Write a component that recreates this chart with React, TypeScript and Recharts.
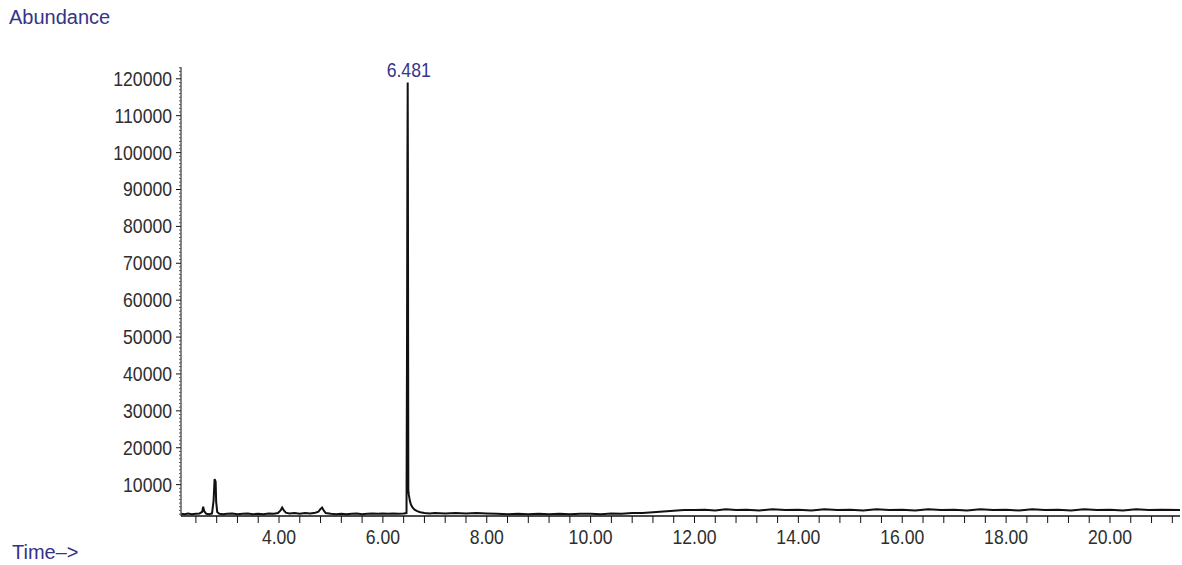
import React from 'react'
import { LineChart, Line, XAxis, YAxis, ReferenceDot } from 'recharts'

// retention time (min) and abundance
const TIMES = [
  2.12, 2.18, 2.25, 2.32, 2.40, 2.47, 2.52, 2.54, 2.56, 2.60,
  2.66, 2.71, 2.74, 2.76, 2.78, 2.79, 2.81, 2.85, 2.92, 3.00,
  3.10, 3.20, 3.30, 3.40, 3.50, 3.60, 3.70, 3.80, 3.90, 3.98,
  4.03, 4.06, 4.09, 4.13, 4.20, 4.30, 4.40, 4.50, 4.60, 4.70,
  4.76, 4.80, 4.83, 4.86, 4.90, 5.00, 5.10, 5.20, 5.30, 5.40,
  5.50, 5.60, 5.70, 5.80, 5.90, 6.00, 6.10, 6.20, 6.30, 6.40,
  6.455, 6.465, 6.472, 6.478, 6.482, 6.486, 6.490, 6.50, 6.52, 6.54,
  6.57, 6.61, 6.66, 6.72, 6.80, 6.90, 7.00, 7.20, 7.40, 7.60,
  7.80, 8.00, 8.20, 8.40, 8.60, 8.80, 9.00, 9.20, 9.40, 9.60,
  9.80, 10.00, 10.20, 10.40, 10.60, 10.80, 11.00, 11.20, 11.40, 11.60,
  11.80, 12.00, 12.20, 12.40, 12.60, 12.80, 13.00, 13.25, 13.50, 13.75,
  14.00, 14.25, 14.50, 14.75, 15.00, 15.25, 15.50, 15.75, 16.00, 16.25,
  16.50, 16.75, 17.00, 17.25, 17.50, 17.75, 18.00, 18.25, 18.50, 18.75,
  19.00, 19.25, 19.50, 19.75, 20.00, 20.25, 20.50, 20.75, 21.00, 21.35,
]
const ABUNDANCE = [
  2100, 2000, 2200, 2000, 2100, 2200, 2600, 4000, 2800, 2100,
  2000, 2200, 5600, 11500, 10800, 5400, 2600, 2100, 2000, 2100,
  2200, 2000, 2100, 2200, 2000, 2100, 2000, 2200, 2100, 2300,
  3000, 3800, 3100, 2400, 2200, 2300, 2100, 2300, 2200, 2400,
  2700, 3400, 3800, 3000, 2300, 2100, 2000, 2100, 2000, 2100,
  2200, 2000, 2100, 2200, 2100, 2200, 2100, 2200, 2100, 2200,
  2300, 48600, 95800, 119000, 95800, 48600, 8500, 7200, 5600, 4600,
  3800, 3200, 2800, 2500, 2300, 2200, 2300, 2200, 2300, 2200,
  2300, 2200, 2100, 2000, 2100, 2000, 2100, 2000, 2100, 2000,
  2100, 2100, 2000, 2200, 2100, 2300, 2300, 2500, 2700, 2900,
  3100, 3100, 3200, 3000, 3300, 3100, 3200, 3000, 3300, 3100,
  3200, 3000, 3300, 3100, 3200, 3000, 3300, 3100, 3200, 3000,
  3300, 3100, 3200, 3000, 3300, 3100, 3200, 3000, 3300, 3100,
  3200, 3000, 3300, 3100, 3200, 3000, 3300, 3100, 3200, 3100,
]

const PEAK_LABEL = '6.481'
const PEAK_TIME = 6.478
const PEAK_TOP = 119000

const X_LABELS = [4, 6, 8, 10, 12, 14, 16, 18, 20]
const Y_LABELS = [10000, 20000, 30000, 40000, 50000, 60000, 70000, 80000, 90000, 100000, 110000, 120000]

const X_DOMAIN: [number, number] = [2.113, 21.348]
const Y_DOMAIN: [number, number] = [1500, 123200]

// minor tick marks: every 0.4 min on time axis, every 1000 on abundance axis
const X_TICKS: number[] = []
for (let i = 6; i <= 53; i++) X_TICKS.push(Math.round(i * 0.4 * 10) / 10)
const Y_TICKS: number[] = []
for (let v = 2000; v <= 123000; v += 1000) Y_TICKS.push(v)

const C = { ink: '#111', label: '#2e2e2e', navy: '#34348a' }
const FONT = '"Liberation Sans", Arial, sans-serif'
const SQUEEZE = 0.88 // the instrument font is a narrow sans

const data = TIMES.map((t, i) => ({ t, a: ABUNDANCE[i] }))

function NarrowText({ x, y, anchor, fill, children }: any) {
  return (
    <text transform={`translate(${x},${y}) scale(${SQUEEZE},1)`} textAnchor={anchor}
      fontSize={20} fontFamily={FONT} fill={fill}>
      {children}
    </text>
  )
}

function XTick({ x, y, payload }: any) {
  const v = payload.value
  const lab = X_LABELS.find(l => Math.abs(l - v) < 0.01)
  return (
    <g>
      <line x1={x} x2={x} y1={y} y2={y + 7} stroke={C.ink} strokeWidth={1} />
      {lab !== undefined && <NarrowText x={x} y={y + 28} anchor="middle" fill={C.label}>{lab.toFixed(2)}</NarrowText>}
    </g>
  )
}

function YTick({ x, y, payload }: any) {
  const v = payload.value
  const major = Y_LABELS.includes(v)
  return (
    <g>
      <line x1={x - (major ? 5 : 2)} x2={x} y1={y} y2={y} stroke={major ? C.ink : '#555'} strokeWidth={1} />
      {major && <NarrowText x={x - 9} y={y + 7} anchor="end" fill={C.label}>{v}</NarrowText>}
    </g>
  )
}

function PeakLabel({ viewBox }: any) {
  const cx = viewBox.x + viewBox.width / 2
  const cy = viewBox.y + viewBox.height / 2
  return <NarrowText x={cx + 1} y={cy - 5} anchor="middle" fill={C.navy}>{PEAK_LABEL}</NarrowText>
}

export default function App() {
  return (
    <div style={{ position: 'absolute', left: 0, top: 0, width: 1182, height: 565, background: '#fff', overflow: 'hidden' }}>
      <div style={{ position: 'absolute', left: 9, top: 6, fontFamily: FONT, fontSize: 20, color: C.navy, lineHeight: '22px' }}>
        Abundance
      </div>
      <div style={{ position: 'absolute', left: 12, top: 541, fontFamily: FONT, fontSize: 20, color: C.navy, lineHeight: '22px' }}>
        Time–&gt;
      </div>
      <LineChart width={1182} height={565} data={data} margin={{ top: 67, right: 2, bottom: 0, left: 0 }}>
        <XAxis
          dataKey="t" type="number" domain={X_DOMAIN} ticks={X_TICKS} allowDataOverflow
          height={49} tickSize={0} tickMargin={0} tickLine={false} interval={0}
          axisLine={{ stroke: C.ink, strokeWidth: 1.5 }} tick={<XTick />}
        />
        <YAxis
          type="number" domain={Y_DOMAIN} ticks={Y_TICKS} allowDataOverflow
          width={181} tickSize={0} tickMargin={0} tickLine={false} interval={0}
          axisLine={{ stroke: C.ink, strokeWidth: 1 }} tick={<YTick />}
        />
        <Line type="linear" dataKey="a" stroke={C.ink} strokeWidth={2} dot={false} isAnimationActive={false} />
        <ReferenceDot x={PEAK_TIME} y={PEAK_TOP} r={0} stroke="none" fill="none" label={<PeakLabel />} />
      </LineChart>
    </div>
  )
}
